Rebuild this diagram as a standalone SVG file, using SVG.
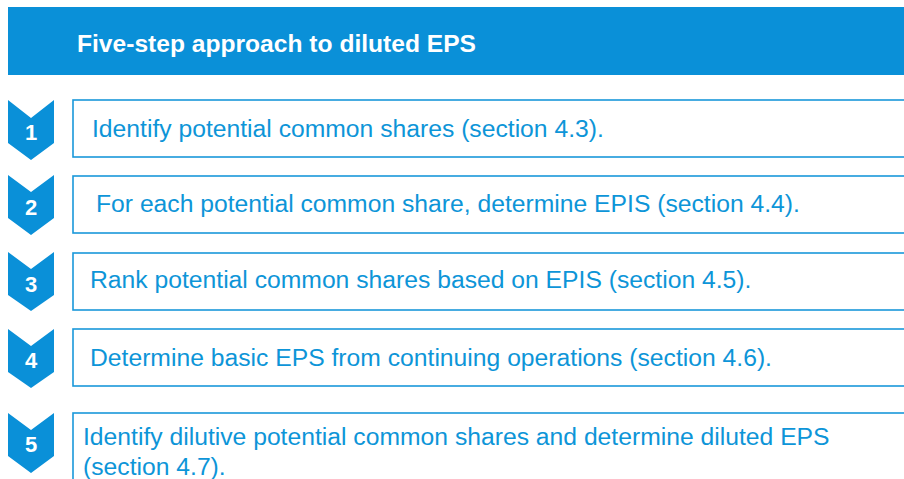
<svg xmlns="http://www.w3.org/2000/svg" width="904" height="479" viewBox="0 0 904 479">
<style>
.hdr{fill:#0a90d8}
.chev{fill:#0a90d8}
.num{font-family:"Liberation Sans",Arial,sans-serif;font-weight:bold;font-size:22px;fill:#fff;text-anchor:middle}
.box{fill:#fff;stroke:#1a98da;stroke-width:1.6}
.txt{font-family:"Liberation Sans",Arial,sans-serif;font-size:24.7px;fill:#0d95d8}
.title{font-family:"Liberation Sans",Arial,sans-serif;font-weight:bold;font-size:24.6px;fill:#fff}
</style>
<rect width="904" height="479" fill="#fff"/>
<g id="header">
<rect class="hdr" x="8" y="7" width="900" height="68"/>
<text class="title" x="77" y="52">Five-step approach to diluted EPS</text>
</g>
<g id="step1">
<polygon class="chev" points="8,100 31,118 54,100 54,143 31,160 8,143"/>
<text class="num" x="31" y="140">1</text>
<rect class="box" x="73" y="100" width="840" height="57"/>
<text class="txt" x="92" y="137">Identify potential common shares (section 4.3).</text>
</g>
<g id="step2">
<polygon class="chev" points="8,175 31,192 54,175 54,218 31,235 8,218"/>
<text class="num" x="31" y="215">2</text>
<rect class="box" x="73" y="176" width="840" height="57"/>
<text class="txt" x="96" y="212">For each potential common share, determine EPIS (section 4.4).</text>
</g>
<g id="step3">
<polygon class="chev" points="8,252 31,269 54,252 54,295 31,311 8,295"/>
<text class="num" x="31" y="292">3</text>
<rect class="box" x="73" y="253" width="840" height="57"/>
<text class="txt" x="90" y="288">Rank potential common shares based on EPIS (section 4.5).</text>
</g>
<g id="step4">
<polygon class="chev" points="8,329 31,346 54,329 54,372 31,388 8,372"/>
<text class="num" x="31" y="368">4</text>
<rect class="box" x="73" y="329" width="840" height="57"/>
<text class="txt" x="90" y="366">Determine basic EPS from continuing operations (section 4.6).</text>
</g>
<g id="step5">
<polygon class="chev" points="8,413 31,430 54,413 54,456 31,473 8,456"/>
<text class="num" x="31" y="452">5</text>
<rect class="box" x="73" y="413" width="840" height="80"/>
<text class="txt" x="83" y="445">Identify dilutive potential common shares and determine diluted EPS</text>
<text class="txt" x="83" y="475">(section 4.7).</text>
</g>
<g id="connectors"></g>
</svg>
